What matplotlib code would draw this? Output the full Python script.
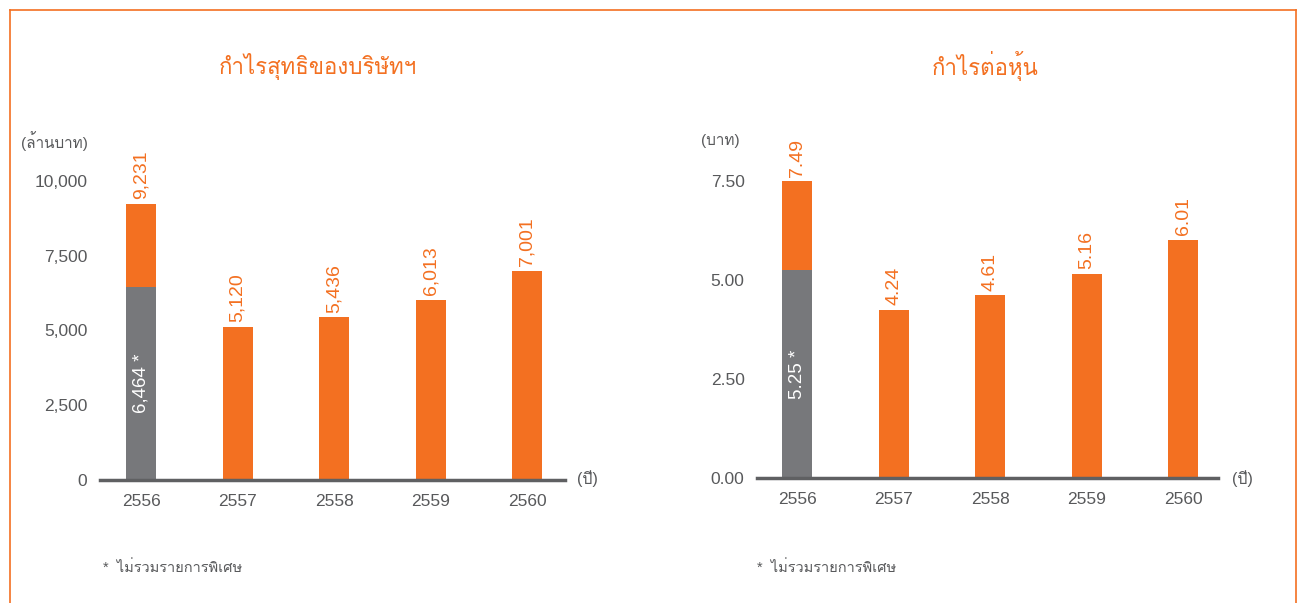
import matplotlib
matplotlib.use('Agg')
import matplotlib.pyplot as plt
from matplotlib import font_manager
from matplotlib.ft2font import FT2Font
from matplotlib.lines import Line2D

# หา font ที่มีอักษรไทย
def find_thai_font():
    for f in font_manager.fontManager.ttflist:
        try:
            if 0x0E01 in FT2Font(f.fname).get_charmap():
                return f.name
        except Exception:
            continue
    return None

thai = find_thai_font()
families = ['Liberation Sans'] + ([thai] if thai else []) + ['DejaVu Sans']
plt.rcParams['font.family'] = families

ORANGE = '#F37021'
GREY = '#77787B'
TEXT = '#58595B'

# data
years = ['2556', '2557', '2558', '2559', '2560']
net_profit = [9231, 5120, 5436, 6013, 7001]
net_profit_labels = ['9,231', '5,120', '5,436', '6,013', '7,001']
net_profit_excl = 6464
net_profit_excl_label = '6,464 *'
net_ticks = [0, 2500, 5000, 7500, 10000]
net_ticklabels = ['0', '2,500', '5,000', '7,500', '10,000']

eps = [7.49, 4.24, 4.61, 5.16, 6.01]
eps_labels = ['7.49', '4.24', '4.61', '5.16', '6.01']
eps_excl = 5.25
eps_excl_label = '5.25 *'
eps_ticks = [0, 2.5, 5.0, 7.5]
eps_ticklabels = ['0.00', '2.50', '5.00', '7.50']

fig = plt.figure(figsize=(13, 6.03), dpi=100)

# กรอบสีส้ม
for xs, ys in [([10/1300, 10/1300], [0, 593/603]),
               ([10/1300, 1296/1300], [593/603, 593/603]),
               ([1296/1300, 1296/1300], [0, 593/603])]:
    fig.add_artist(Line2D(xs, ys, color=ORANGE, lw=1.2, transform=fig.transFigure))


def draw_panel(rect, xlim, values, labels, excl, excl_label, ticks, ticklabels, ymax,
               title, title_x, unit, unit_x, note_x, year_x):
    ax = fig.add_axes(rect)
    x = list(range(len(values)))
    ax.bar(x, values, width=0.31, color=ORANGE, zorder=1)
    ax.bar([0], [excl], width=0.31, color=GREY, zorder=2)
    for xi, v, lab in zip(x, values, labels):
        ax.annotate(lab, (xi, v), xytext=(0, 3.5), textcoords='offset points',
                    rotation=90, ha='center', va='bottom', color=ORANGE,
                    fontsize=14, annotation_clip=False)
    ax.text(0, excl / 2, excl_label, rotation=90, ha='center', va='center',
            color='white', fontsize=13.5)
    ax.set_xlim(*xlim)
    ax.set_ylim(0, ymax)
    ax.set_xticks(x)
    ax.set_xticklabels(years)
    ax.set_yticks(ticks)
    ax.set_yticklabels(ticklabels)
    ax.tick_params(length=0, labelsize=12.5, labelcolor=TEXT)
    ax.tick_params(axis='y', pad=9)
    ax.tick_params(axis='x', pad=10)
    for s in ['top', 'right', 'left']:
        ax.spines[s].set_visible(False)
    ax.spines['bottom'].set_color('#5F6062')
    ax.spines['bottom'].set_linewidth(2.5)
    ax.spines['bottom'].set_zorder(3)

    fig.text(title_x / 1300, 1 - 66 / 603, title, ha='center', va='center',
             color=ORANGE, fontsize=16)
    fig.text(unit_x / 1300, 1 - 141 / 603, unit, ha='right', va='center',
             color=TEXT, fontsize=11)
    fig.text(year_x / 1300, 1 - 479 / 603, '(ปี)', ha='left', va='center',
             color=TEXT, fontsize=11.5)
    fig.text(note_x / 1300, 1 - 568 / 603, '*  ไม่รวมรายการพิเศษ', ha='left', va='center',
             color=TEXT, fontsize=10.5)
    return ax


draw_panel([100/1300, 123/603, 465/1300, 299/603], (-0.425, 4.39),
           net_profit, net_profit_labels, net_profit_excl, net_profit_excl_label,
           net_ticks, net_ticklabels, 10000,
           'กำไรสุทธิของบริษัทฯ', 318, '(ล้านบาท)', 88, 103, 577)

draw_panel([757/1300, 125/603, 461/1300, 297/603], (-0.415, 4.36),
           eps, eps_labels, eps_excl, eps_excl_label,
           eps_ticks, eps_ticklabels, 7.5,
           'กำไรต่อหุ้น', 985, '(บาท)', 740, 757, 1232)

fig.savefig('out.png', dpi=100)
